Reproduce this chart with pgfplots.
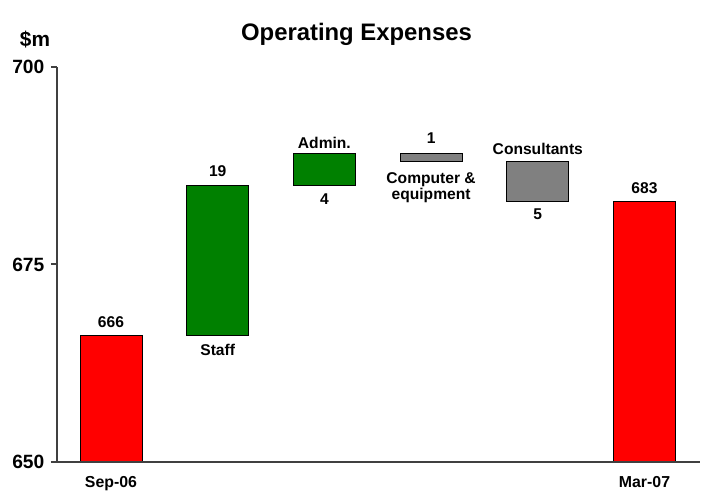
\documentclass[border=0pt]{standalone}
\usepackage{fontspec}
\setmainfont{Liberation Sans}
\usepackage{pgfplots}
\pgfplotsset{compat=1.18}
\definecolor{wfred}{RGB}{255,0,0}
\definecolor{wfgreen}{RGB}{0,128,0}
\definecolor{wfgray}{RGB}{128,128,128}
\definecolor{axgray}{RGB}{64,64,64}
\begin{document}
\begin{tikzpicture}
\begin{axis}[
    name=ax,
    scale only axis,
    width=482.25pt, height=296.25pt,
    ybar stacked, bar width=0.58,
    xmin=-0.506, xmax=5.52,
    ymin=650, ymax=700,
    enlargelimits=false,
    axis lines=left,
    axis line style={-, axgray, line width=1.5pt},
    axis on top,
    ytick={650,675,700}, yticklabels={650,675,700},
    xtick={0,5}, xticklabels={Sep-06,Mar-07},
    x tick style={draw=none},
    y tick style={axgray, line width=1.5pt},
    tick align=outside, major tick length=4.5pt,
    yticklabel style={font=\bfseries\fontsize{14.4}{16}\selectfont, text=black, xshift=-1.5pt},
    xticklabel style={font=\bfseries\fontsize{11.9}{14}\selectfont, text=black, yshift=-3pt},
]
% invisible base of each floating bar
\addplot[draw=none, fill=none] coordinates {(0,0) (1,666) (2,685) (3,688) (4,683) (5,0)};
\addplot[fill=wfred, draw=black, line width=0.6pt] coordinates {(0,666) (1,0) (2,0) (3,0) (4,0) (5,683)};
\addplot[fill=wfgreen, draw=black, line width=0.6pt] coordinates {(0,0) (1,19) (2,4) (3,0) (4,0) (5,0)};
\addplot[fill=wfgray, draw=black, line width=0.6pt] coordinates {(0,0) (1,0) (2,0) (3,1) (4,5) (5,0)};

\node[font=\fontsize{11.7}{14}\selectfont\bfseries] at (axis cs:0,666) [yshift=9.75pt] {666};
\node[font=\fontsize{11.7}{14}\selectfont\bfseries] at (axis cs:1,685) [yshift=10.5pt] {19};
\node[font=\fontsize{11.7}{14}\selectfont\bfseries] at (axis cs:1,666) [yshift=-10.5pt] {Staff};
\node[font=\fontsize{11.7}{14}\selectfont\bfseries] at (axis cs:2,689) [yshift=8.25pt] {Admin.};
\node[font=\fontsize{11.7}{14}\selectfont\bfseries] at (axis cs:2,685) [yshift=-10.5pt] {4};
\node[font=\fontsize{11.7}{14}\selectfont\bfseries] at (axis cs:3,689) [yshift=12pt] {1};
\node[font=\fontsize{11.7}{11.5}\selectfont\bfseries, align=center] at (axis cs:3,688) [yshift=-19.5pt] {Computer \&\\[0.4pt]equipment};
\node[font=\fontsize{11.7}{14}\selectfont\bfseries] at (axis cs:4,688) [yshift=9.75pt] {Consultants};
\node[font=\fontsize{11.7}{14}\selectfont\bfseries] at (axis cs:4,683) [yshift=-9.75pt] {5};
\node[font=\fontsize{11.7}{14}\selectfont\bfseries] at (axis cs:5,683) [yshift=9.75pt] {683};
\end{axis}
\node[font=\fontsize{15.6}{17}\selectfont\bfseries] at (ax.north west) [xshift=-16.5pt, yshift=20.25pt] {\$m};
\node[font=\fontsize{17.9}{20}\selectfont\bfseries, anchor=base] at (ax.north) [xshift=-16.5pt, yshift=20pt] {Operating Expenses};
\pgfresetboundingbox
\path[use as bounding box] (ax.south west) ++(-42.75pt,-24.75pt) rectangle ++(525.75pt,371.25pt);
\end{tikzpicture}
\end{document}
